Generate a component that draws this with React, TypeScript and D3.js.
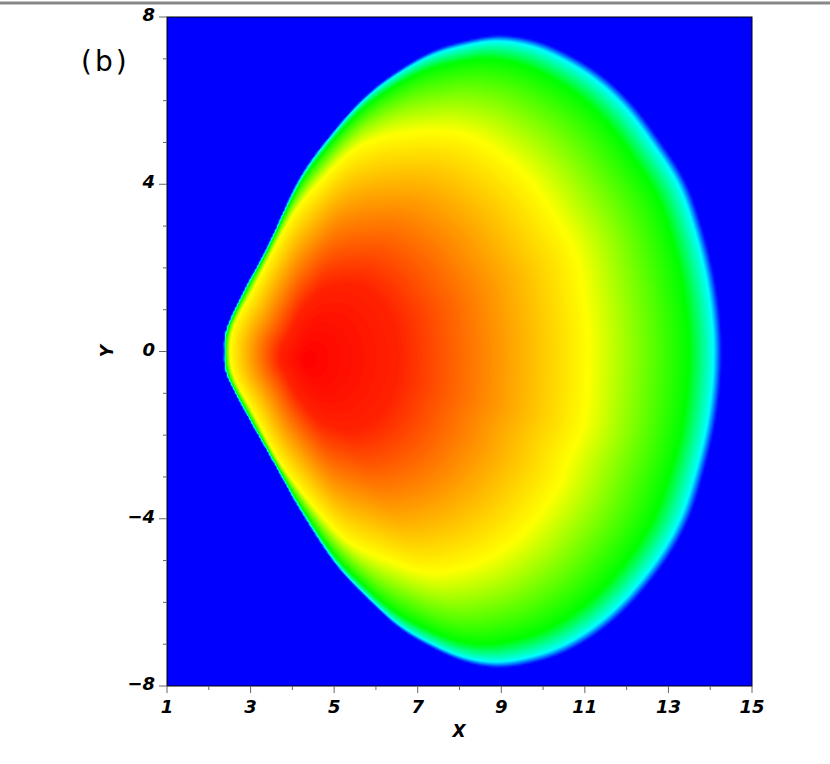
import React, { useMemo } from 'react';
import * as d3 from 'd3';

const width = 830;
const height = 764;
// plot frame in pixels
const plotLeft = 167;
const plotRight = 752;
const plotTop = 17;
const plotBottom = 686;

// axes
const xDomain = [1, 15];
const yDomain = [-8, 8];
const xTicks = [1, 2, 3, 4, 5, 6, 7, 8, 9, 10, 11, 12, 13, 14, 15];
const xLabels = [1, 3, 5, 7, 9, 11, 13, 15];
const yTicks = [-8, -7, -6, -5, -4, -3, -2, -1, 0, 1, 2, 3, 4, 5, 6, 7, 8];
const yLabels = [-8, -4, 0, 4, 8];

// outer edge of the coloured region
const boundaryX = [2.36, 2.42, 2.84, 3.39, 4.18, 5.0, 5.79, 6.58, 7.39, 8.18, 8.97, 9.8, 10.6, 11.4, 12.1, 12.75, 13.4, 13.8, 14.1, 14.26, 14.27, 14.13, 13.85, 13.5, 12.95, 12.15, 11.4, 10.6, 9.8, 8.97, 8.18, 7.39, 6.58, 5.79, 5.0, 4.18, 3.63, 2.84, 2.42];
const boundaryY = [0.0, 0.55, 1.47, 2.5, 4.17, 5.3, 6.16, 6.76, 7.21, 7.45, 7.57, 7.45, 7.12, 6.62, 5.97, 5.12, 4.1, 3.0, 1.8, 0.6, -0.5, -1.7, -2.9, -4.0, -5.0, -6.0, -6.68, -7.17, -7.45, -7.57, -7.45, -7.12, -6.64, -5.92, -5.06, -3.8, -2.81, -1.4, -0.55];

// the yellow ring inside it
const yellowX = [2.5, 2.62, 3.05, 3.6, 4.1, 4.76, 5.47, 6.19, 7.0, 7.8, 8.6, 9.62, 10.4, 10.84, 11.07, 11.08, 10.98, 10.64, 10.33, 9.62, 8.8, 8.01, 7.2, 6.19, 5.38, 4.76, 4.11, 3.6, 3.05, 2.62];
const yellowY = [0.0, 0.65, 1.47, 2.55, 3.4, 4.17, 4.82, 5.13, 5.25, 5.25, 4.98, 4.17, 3.05, 2.12, 0.51, -0.44, -1.7, -2.5, -3.29, -4.25, -4.89, -5.2, -5.28, -4.96, -4.58, -4.0, -3.22, -2.5, -1.45, -0.65];

// peak (red centre)
const peakX = 4.3;
const peakY = -0.2;

// colour levels: normalised level -> hue
const yellowLevel = 0.6;
const stopLevel = [0, 0.2, 0.6, 0.9, 0.975, 1.0];
const stopHue = [0, 8, 60, 120, 180, 240];

function smoothClosed(xs: number[], ys: number[], steps = 24) {
  const n = xs.length;
  const out: [number, number][] = [];
  const cr = (a: number, b: number, c: number, d: number, t: number) =>
    0.5 * (2 * b + (-a + c) * t + (2 * a - 5 * b + 4 * c - d) * t * t + (-a + 3 * b - 3 * c + d) * t * t * t);
  for (let i = 0; i < n; i++) {
    const i0 = (i - 1 + n) % n, i2 = (i + 1) % n, i3 = (i + 2) % n;
    for (let s = 0; s < steps; s++) {
      const t = s / steps;
      out.push([cr(xs[i0], xs[i], xs[i2], xs[i3], t), cr(ys[i0], ys[i], ys[i2], ys[i3], t)]);
    }
  }
  return out;
}

// polar table around the peak: angle -> radius
function polarTable(xs: number[], ys: number[]) {
  const pts = smoothClosed(xs, ys)
    .map(([x, y]) => ({ a: Math.atan2(y - peakY, x - peakX), r: Math.hypot(x - peakX, y - peakY) }))
    .sort((p, q) => p.a - q.a);
  const first = pts[0], last = pts[pts.length - 1];
  return [{ a: last.a - 2 * Math.PI, r: last.r }, ...pts, { a: first.a + 2 * Math.PI, r: first.r }];
}

const bisectA = d3.bisector((d: { a: number }) => d.a).left;

function radiusAt(table: { a: number; r: number }[], a: number) {
  let k = bisectA(table, a);
  if (k <= 0) k = 1;
  if (k >= table.length) k = table.length - 1;
  const p = table[k - 1], q = table[k];
  const t = (a - p.a) / (q.a - p.a || 1);
  return p.r + (q.r - p.r) * t;
}

export default function App() {
  const x = d3.scaleLinear().domain(xDomain).range([plotLeft, plotRight]);
  const y = d3.scaleLinear().domain(yDomain).range([plotBottom, plotTop]);

  const field = useMemo(() => {
    const nx = Math.round((plotRight - plotLeft) / 2);
    const ny = Math.round((plotBottom - plotTop) / 2);
    const cw = (plotRight - plotLeft) / nx;
    const ch = (plotBottom - plotTop) / ny;
    const outer = polarTable(boundaryX, boundaryY);
    const inner = polarTable(yellowX, yellowY);
    const hue = d3.scaleLinear().domain(stopLevel).range(stopHue).clamp(true);
    const values = new Float64Array(nx * ny);
    for (let j = 0; j < ny; j++) {
      const yv = y.invert(plotTop + (j + 0.5) * ch);
      for (let i = 0; i < nx; i++) {
        const xv = x.invert(plotLeft + (i + 0.5) * cw);
        const dx = xv - peakX, dy = yv - peakY;
        const r = Math.hypot(dx, dy);
        const a = Math.atan2(dy, dx);
        const rb = radiusAt(outer, a);
        const ry = radiusAt(inner, a);
        const lev = r <= ry ? (yellowLevel * r) / ry : yellowLevel + ((1 - yellowLevel) * (r - ry)) / (rb - ry);
        values[j * nx + i] = lev >= 1 ? 240 : hue(lev);
      }
    }
    const thresholds = d3.range(0, 240, 1);
    const contours = d3.contours().size([nx, ny]).thresholds(thresholds)(Array.from(values));
    return { contours, cw, ch };
  }, []);

  const path = d3.geoPath();
  const font = "'DejaVu Sans', sans-serif";

  return (
    <svg width={width} height={height} style={{ position: 'absolute', left: 0, top: 0, background: '#fff' }}>
      <line x1={0} x2={width} y1={3} y2={3} stroke="#888" strokeWidth={3} />
      <defs>
        <clipPath id="plot-clip">
          <rect x={plotLeft} y={plotTop} width={plotRight - plotLeft} height={plotBottom - plotTop} />
        </clipPath>
      </defs>
      <g clipPath="url(#plot-clip)">
        <rect x={plotLeft} y={plotTop} width={plotRight - plotLeft} height={plotBottom - plotTop} fill="#0000ff" />
        <g transform={`translate(${plotLeft},${plotTop}) scale(${field.cw},${field.ch})`}>
          {field.contours.map((c, k) => (
            <path
              key={k}
              d={path(c as any) || ''}
              fill={c.value >= 239 ? '#0000ff' : d3.hsl(c.value + 0.5, 1, 0.5).toString()}
            />
          ))}
        </g>
      </g>
      <rect
        x={plotLeft}
        y={plotTop}
        width={plotRight - plotLeft}
        height={plotBottom - plotTop}
        fill="none"
        stroke="#000"
        strokeWidth={1}
      />
      {/* x axis */}
      <g>
        {xTicks.map((t) => {
          const major = xLabels.includes(t);
          return (
            <line key={t} x1={x(t)} x2={x(t)} y1={plotBottom} y2={plotBottom + (major ? 7 : 4)} stroke="#666" />
          );
        })}
        {xLabels.map((t) => (
          <text
            key={t}
            x={x(t)}
            y={713}
            textAnchor="middle"
            fontFamily={font}
            fontWeight="bold"
            fontStyle="italic"
            fontSize={18}
          >
            {t}
          </text>
        ))}
        <text x={459} y={737} textAnchor="middle" fontFamily={font} fontWeight="bold" fontStyle="italic" fontSize={17}>
          X
        </text>
      </g>
      {/* y axis */}
      <g>
        {yTicks.map((t) => {
          const major = yLabels.includes(t);
          return (
            <line key={t} x1={plotLeft - (major ? 8 : 4)} x2={plotLeft} y1={y(t)} y2={y(t)} stroke="#666" />
          );
        })}
        {yLabels.map((t) => (
          <text
            key={t}
            x={155}
            y={y(t) + 4}
            textAnchor="end"
            fontFamily={font}
            fontWeight="bold"
            fontStyle="italic"
            fontSize={18}
          >
            {t < 0 ? `\u2212${-t}` : t}
          </text>
        ))}
        <text
          transform={`translate(113,351) rotate(-90)`}
          textAnchor="middle"
          fontFamily={font}
          fontWeight="bold"
          fontStyle="italic"
          fontSize={17}
        >
          Y
        </text>
      </g>
      <text x={81} y={71} fontFamily={font} fontSize={28} letterSpacing={3}>
        (b)
      </text>
    </svg>
  );
}
